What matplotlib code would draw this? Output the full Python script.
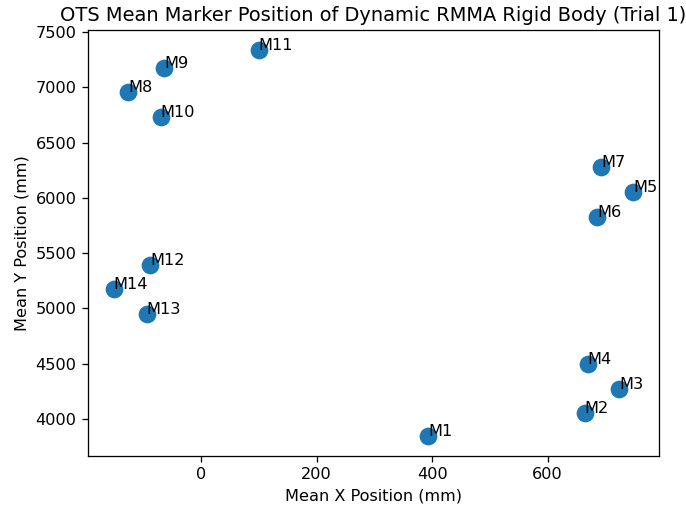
import matplotlib
matplotlib.use("Agg")
import matplotlib.pyplot as plt

labels = ["M1", "M2", "M3", "M4", "M5", "M6", "M7", "M8", "M9", "M10", "M11", "M12", "M13", "M14"]
x_mm = [393, 664, 724, 669, 748, 686, 692, -126, -64, -70, 100, -88, -94, -151]
y_mm = [3840, 4052, 4271, 4494, 6054, 5828, 6280, 6958, 7178, 6732, 7341, 5392, 4949, 5172]

DPI = 116
fig = plt.figure(figsize=(686 / DPI, 507 / DPI), dpi=DPI)
ax = fig.add_axes([0.128, 0.101, 0.833, 0.839])
ax.scatter(x_mm, y_mm, s=100, color="#1f77b4")
for lab, xv, yv in zip(labels, x_mm, y_mm):
    ax.text(xv, yv, lab)
ax.set_xlabel("Mean X Position (mm)")
ax.set_ylabel("Mean Y Position (mm)")
ax.set_title("OTS Mean Marker Position of Dynamic RMMA Rigid Body (Trial 1)")
fig.savefig("out.png", dpi=DPI)
